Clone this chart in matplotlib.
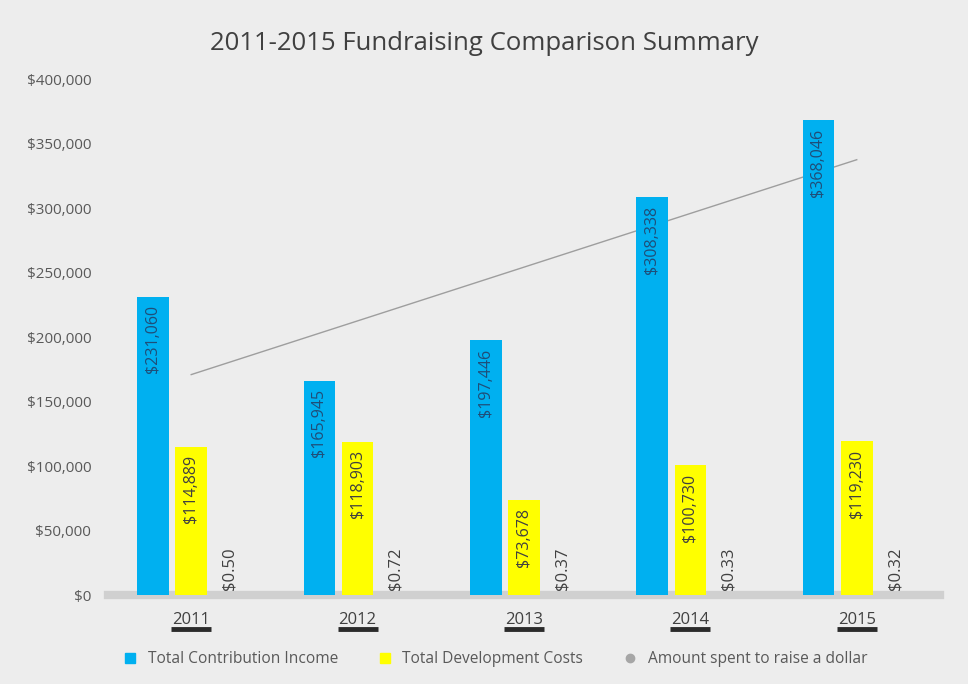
import matplotlib

matplotlib.use("Agg")
import matplotlib.pyplot as plt
import matplotlib.transforms as mtransforms
import numpy as np
from matplotlib.ticker import FuncFormatter

YEARS = ["2011", "2012", "2013", "2014", "2015"]
CONTRIBUTION = [231060, 165945, 197446, 308338, 368046]
DEVELOPMENT = [114889, 118903, 73678, 100730, 119230]
COST_PER_DOLLAR = [0.50, 0.72, 0.37, 0.33, 0.32]

SERIES_LABELS = [
    "Total Contribution Income",
    "Total Development Costs",
    "Amount spent to raise a dollar",
]
BLUE = "#00B0F0"
YELLOW = "#FFFF00"
GREY = "#A6A6A6"
BG = "#EDEDED"
TEXT = "#595959"

plt.rcParams["font.family"] = ["Open Sans", "DejaVu Sans"]

fig = plt.figure(figsize=(9.68, 6.84), dpi=100, facecolor=BG)
ax = fig.add_axes([0.1116, 0.130, 0.8594, 0.7545], facecolor=BG)

xs = np.arange(len(YEARS))
width = 0.19
offset = 0.23

ax.bar(xs - offset, CONTRIBUTION, width, color=BLUE, zorder=3)
ax.bar(xs, DEVELOPMENT, width, color=YELLOW, zorder=3)
ax.bar(xs + offset, COST_PER_DOLLAR, width, color=GREY, zorder=3)

# linear trendline of contribution income
coef = np.polyfit(xs, CONTRIBUTION, 1)
ax.plot(xs, np.polyval(coef, xs), color="#9E9E9E", lw=1.0, zorder=2)

for x, v in zip(xs - offset, CONTRIBUTION):
    ax.annotate(f"${v:,}", (x, v), xytext=(0, -6), textcoords="offset points",
                rotation=90, ha="center", va="top", fontsize=11.5, color="#1F4E79", zorder=4)
for x, v in zip(xs, DEVELOPMENT):
    ax.annotate(f"${v:,}", (x, v), xytext=(0, -6), textcoords="offset points",
                rotation=90, ha="center", va="top", fontsize=11.5, color="#404040", zorder=4)
for x, v in zip(xs + offset, COST_PER_DOLLAR):
    ax.annotate(f"${v:.2f}", (x, 0), xytext=(0, 4), textcoords="offset points",
                rotation=90, ha="center", va="bottom", fontsize=12, color="#404040", zorder=4)

ax.set_xlim(-0.5, len(YEARS) - 0.5)
ax.set_ylim(0, 400000)
ax.set_yticks(np.arange(0, 400001, 50000))
ax.yaxis.set_major_formatter(FuncFormatter(lambda v, _: f"${v:,.0f}"))
ax.tick_params(axis="y", length=0, pad=12, labelsize=11, labelcolor=TEXT)
ax.set_xticks(xs, YEARS)
ax.tick_params(axis="x", length=0, pad=12, labelsize=12, labelcolor="#404040")

for side in ("top", "right", "left"):
    ax.spines[side].set_visible(False)
ax.spines["bottom"].set_color("#D0D0D0")
ax.spines["bottom"].set_linewidth(6)

# dark underline beneath each year label
trans = mtransforms.blended_transform_factory(ax.transData, ax.transAxes)
for x in xs:
    ax.plot([x - 0.12, x + 0.12], [-0.066, -0.066], transform=trans, color="#2B2B2B",
            lw=3.5, clip_on=False, solid_capstyle="butt")

fig.text(0.5, 0.936, "2011-2015 Fundraising Comparison Summary", ha="center", va="center",
         fontsize=18.5, color="#404040")

handles = [
    plt.Line2D([], [], marker="s", ls="", color=BLUE, markersize=7),
    plt.Line2D([], [], marker="s", ls="", color=YELLOW, markersize=7),
    plt.Line2D([], [], marker="o", ls="", color=GREY, markersize=6),
]
fig.legend(handles, SERIES_LABELS, loc="center", bbox_to_anchor=(0.507, 0.036), ncol=3,
           frameon=False, fontsize=11.2, labelcolor=TEXT, handletextpad=0.15, columnspacing=2.0)

fig.savefig("out.png", dpi=100, facecolor=BG)
